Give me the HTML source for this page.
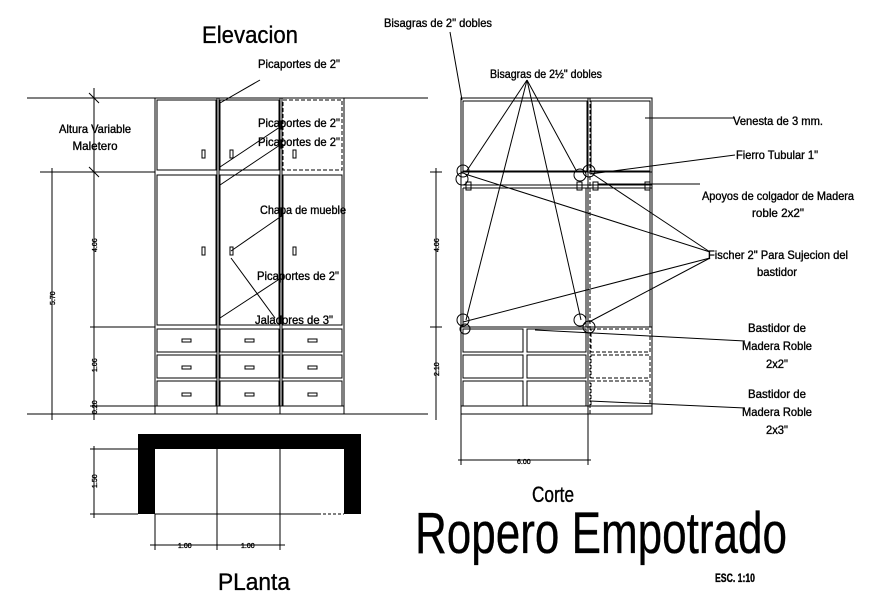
<!DOCTYPE html>
<html><head><meta charset="utf-8"><style>
html,body{margin:0;padding:0;background:#fff;}
svg{display:block;}
text{font-family:"Liberation Sans",sans-serif;fill:#000;}
.lb text{stroke:#000;stroke-width:0.35;}
</style></head><body>
<svg width="875" height="601" viewBox="0 0 875 601" xmlns="http://www.w3.org/2000/svg">
<g stroke="#000" stroke-width="1" fill="none">
<line x1="27" y1="98" x2="428" y2="98"/>
<line x1="27" y1="414" x2="428" y2="414"/>
<line x1="40" y1="172" x2="155" y2="172"/>
<line x1="90" y1="327" x2="155" y2="327"/>
<line x1="90" y1="406" x2="155" y2="406"/>
<line x1="94" y1="88" x2="94" y2="420"/>
<line x1="52" y1="168" x2="52" y2="420"/>
<line x1="436" y1="168" x2="436" y2="420"/>
<line x1="430" y1="172" x2="442" y2="172"/>
<line x1="430" y1="327" x2="442" y2="327"/>
<line x1="89" y1="93" x2="99" y2="103"/><line x1="89" y1="167" x2="99" y2="177"/>
<rect x="155" y="98" width="189" height="316"/>
<rect x="157" y="100" width="59" height="70"/><rect x="220" y="100" width="59" height="70"/><rect x="283" y="100" width="59" height="70" stroke-dasharray="4,2"/>
<rect x="157" y="175" width="59" height="150"/><rect x="220" y="175" width="59" height="150"/><rect x="283" y="175" width="59" height="150"/>
<rect x="157" y="329" width="59" height="23"/><rect x="220" y="329" width="59" height="23"/><rect x="283" y="329" width="59" height="23"/>
<rect x="157" y="355" width="59" height="23"/><rect x="220" y="355" width="59" height="23"/><rect x="283" y="355" width="59" height="23"/>
<rect x="157" y="381" width="59" height="25"/><rect x="220" y="381" width="59" height="25"/><rect x="283" y="381" width="59" height="25"/>
<line x1="217" y1="98" x2="217" y2="414"/><line x1="219" y1="98" x2="219" y2="406"/>
<line x1="280" y1="98" x2="280" y2="414"/><line x1="282" y1="98" x2="282" y2="406"/>
<line x1="155" y1="406" x2="344" y2="406"/>
<rect x="202" y="150" width="3" height="8"/><rect x="230" y="150" width="3" height="8"/><rect x="293" y="150" width="3" height="8"/>
<rect x="202" y="247" width="3" height="8"/><rect x="230" y="247" width="3" height="8"/><rect x="293" y="247" width="3" height="8"/>
<rect x="182" y="339" width="9" height="3"/><rect x="245" y="339" width="9" height="3"/><rect x="308" y="339" width="9" height="3"/>
<rect x="182" y="366" width="9" height="3"/><rect x="245" y="366" width="9" height="3"/><rect x="308" y="366" width="9" height="3"/>
<rect x="182" y="393" width="9" height="3"/><rect x="245" y="393" width="9" height="3"/><rect x="308" y="393" width="9" height="3"/>
<line x1="220" y1="103" x2="260" y2="80"/>
<line x1="220" y1="167" x2="280" y2="127"/>
<line x1="220" y1="185" x2="280" y2="145"/>
<line x1="231" y1="251" x2="283" y2="215"/>
<line x1="231" y1="258" x2="275" y2="318"/>
<line x1="220" y1="318" x2="278" y2="280"/>
<rect x="461" y="98" width="191" height="316"/>
<rect x="463" y="101" width="124" height="70"/><rect x="591" y="101" width="59" height="70"/>
<line x1="588" y1="98" x2="588" y2="414"/><line x1="590" y1="98" x2="590" y2="414" stroke-dasharray="4,2"/>
<line x1="461" y1="172" x2="652" y2="172"/>
<line x1="463" y1="185" x2="652" y2="185"/><line x1="463" y1="188" x2="652" y2="188"/>
<rect x="466" y="182" width="5" height="8"/><rect x="577" y="182" width="5" height="8"/><rect x="593" y="182" width="5" height="8"/><rect x="645" y="182" width="5" height="8"/>
<line x1="463" y1="188" x2="463" y2="327"/><line x1="586" y1="188" x2="586" y2="327"/><line x1="650" y1="172" x2="650" y2="327"/>
<line x1="461" y1="327" x2="652" y2="327"/>
<rect x="463" y="329" width="60" height="23"/><rect x="527" y="329" width="59" height="23"/><rect x="591" y="329" width="59" height="23" stroke-dasharray="4,2"/>
<rect x="463" y="355" width="60" height="23"/><rect x="527" y="355" width="59" height="23"/><rect x="591" y="355" width="59" height="23" stroke-dasharray="4,2"/>
<rect x="463" y="381" width="60" height="25"/><rect x="527" y="381" width="59" height="25"/><rect x="591" y="381" width="59" height="25" stroke-dasharray="4,2"/>
<line x1="461" y1="406" x2="652" y2="406"/>
<line x1="461" y1="414" x2="461" y2="465"/><line x1="588" y1="414" x2="588" y2="465"/>
<line x1="458" y1="460" x2="591" y2="460"/>
<circle cx="463" cy="171" r="6"/><circle cx="462" cy="179" r="6"/><circle cx="580" cy="175" r="6"/><circle cx="589" cy="171" r="6"/>
<circle cx="463" cy="320" r="6"/><circle cx="465" cy="329" r="5"/><circle cx="580" cy="320" r="6"/><circle cx="589" cy="327" r="6"/>
<line x1="462" y1="100" x2="450" y2="32"/>
<line x1="527" y1="80" x2="466" y2="172"/><line x1="527" y1="80" x2="577" y2="172"/><line x1="527" y1="80" x2="466" y2="320"/><line x1="527" y1="80" x2="581" y2="320"/>
<line x1="645" y1="118" x2="735" y2="118"/>
<line x1="590" y1="174" x2="735" y2="155"/>
<line x1="598" y1="184" x2="700" y2="184"/>
<line x1="465" y1="174" x2="710" y2="252"/><line x1="591" y1="173" x2="710" y2="252"/>
<line x1="463" y1="322" x2="710" y2="258"/><line x1="589" y1="322" x2="710" y2="258"/>
<line x1="535" y1="330" x2="745" y2="341"/>
<line x1="590" y1="401" x2="745" y2="408"/>
<line x1="90" y1="449" x2="138" y2="449"/><line x1="90" y1="514" x2="138" y2="514"/>
<line x1="94" y1="446" x2="94" y2="518"/>
<line x1="217" y1="449" x2="217" y2="550"/><line x1="280" y1="449" x2="280" y2="550"/><line x1="155" y1="514" x2="155" y2="550"/>
<line x1="155" y1="514" x2="318" y2="514"/><line x1="318" y1="514" x2="344" y2="514" stroke-dasharray="3,2"/>
<line x1="150" y1="545" x2="285" y2="545"/>
</g>
<path d="M138 434H361V514H344V449H155V514H138Z" fill="#000"/>
<g font-size="12" class="lb">
<text x="250" y="43" font-size="24" text-anchor="middle" textLength="96" lengthAdjust="spacingAndGlyphs">Elevacion</text>
<text x="258" y="68" textLength="82" lengthAdjust="spacingAndGlyphs">Picaportes de 2"</text>
<text x="258" y="127" textLength="82" lengthAdjust="spacingAndGlyphs">Picaportes de 2"</text>
<text x="258" y="146" textLength="82" lengthAdjust="spacingAndGlyphs">Picaportes de 2"</text>
<text x="260" y="214" textLength="86" lengthAdjust="spacingAndGlyphs">Chapa de mueble</text>
<text x="257" y="280" textLength="82" lengthAdjust="spacingAndGlyphs">Picaportes de 2"</text>
<text x="255" y="324" textLength="78" lengthAdjust="spacingAndGlyphs">Jaladores de 3"</text>
<text x="95" y="133" text-anchor="middle" textLength="72" lengthAdjust="spacingAndGlyphs">Altura Variable</text>
<text x="95" y="150" text-anchor="middle" textLength="45" lengthAdjust="spacingAndGlyphs">Maletero</text>
<text x="384" y="27" textLength="108" lengthAdjust="spacingAndGlyphs">Bisagras de 2" dobles</text>
<text x="490" y="78" textLength="112" lengthAdjust="spacingAndGlyphs">Bisagras de 2½" dobles</text>
<text x="733" y="125" textLength="90" lengthAdjust="spacingAndGlyphs">Venesta de 3 mm.</text>
<text x="736" y="159" textLength="82" lengthAdjust="spacingAndGlyphs">Fierro Tubular 1"</text>
<text x="702" y="200" textLength="152" lengthAdjust="spacingAndGlyphs">Apoyos de colgador de Madera</text>
<text x="752" y="217" textLength="52" lengthAdjust="spacingAndGlyphs">roble 2x2"</text>
<text x="708" y="259" textLength="140" lengthAdjust="spacingAndGlyphs">Fischer 2" Para Sujecion del</text>
<text x="757" y="276" textLength="40" lengthAdjust="spacingAndGlyphs">bastidor</text>
<text x="777" y="332" text-anchor="middle" textLength="58" lengthAdjust="spacingAndGlyphs">Bastidor de</text>
<text x="777" y="350" text-anchor="middle" textLength="70" lengthAdjust="spacingAndGlyphs">Madera Roble</text>
<text x="777" y="368" text-anchor="middle" textLength="22" lengthAdjust="spacingAndGlyphs">2x2"</text>
<text x="777" y="398" text-anchor="middle" textLength="58" lengthAdjust="spacingAndGlyphs">Bastidor de</text>
<text x="777" y="416" text-anchor="middle" textLength="70" lengthAdjust="spacingAndGlyphs">Madera Roble</text>
<text x="777" y="434" text-anchor="middle" textLength="22" lengthAdjust="spacingAndGlyphs">2x3"</text>
<text x="553" y="502" font-size="22" text-anchor="middle" textLength="42" lengthAdjust="spacingAndGlyphs">Corte</text>
<text x="415" y="553" font-size="58" textLength="372" lengthAdjust="spacingAndGlyphs">Ropero Empotrado</text>
<text x="218" y="590" font-size="24" textLength="72" lengthAdjust="spacingAndGlyphs">PLanta</text>
<text x="715" y="582" font-size="12" font-weight="bold" textLength="40" lengthAdjust="spacingAndGlyphs">ESC. 1:10</text>
<g font-size="7">
<text x="517" y="464">6.00</text>
<text x="178" y="548">1.00</text>
<text x="241" y="548">1.00</text>
<text transform="translate(97,252) rotate(-90)">4.06</text>
<text transform="translate(97,372) rotate(-90)">1.06</text>
<text transform="translate(97,414) rotate(-90)">0.20</text>
<text transform="translate(55,305) rotate(-90)">5.70</text>
<text transform="translate(439,252) rotate(-90)">4.06</text>
<text transform="translate(439,376) rotate(-90)">2.10</text>
<text transform="translate(97,488) rotate(-90)">1.50</text>
</g>
</g>
</svg>
</body></html>
